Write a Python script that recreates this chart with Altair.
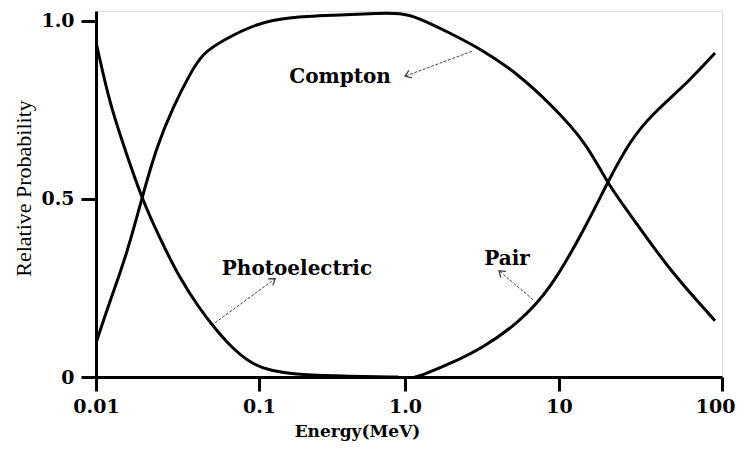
import altair as alt
import pandas as pd

# Energy (MeV) and relative probability
photo_E = [0.0101, 0.0122, 0.0155, 0.0191, 0.0247, 0.0327, 0.0434, 0.0522, 0.0664, 0.0881, 0.119, 0.191, 0.42, 0.9]
photo_P = [0.931, 0.762, 0.622, 0.501, 0.388, 0.276, 0.191, 0.143, 0.087, 0.039, 0.017, 0.006, 0.002, 0.0]

compton_E = [0.0101, 0.0122, 0.0155, 0.0191, 0.0237, 0.0297, 0.0378, 0.0453, 0.0601, 0.0972, 0.163, 0.321,
             0.675, 0.925, 1.20, 1.96, 3.21, 5.34, 8.74, 14.9, 19.7, 30.1, 48.0, 90.6]
compton_P = [0.101, 0.214, 0.346, 0.501, 0.650, 0.757, 0.852, 0.909, 0.945, 0.993, 1.010, 1.015,
             1.021, 1.021, 1.010, 0.965, 0.917, 0.852, 0.768, 0.655, 0.543, 0.430, 0.298, 0.158]

pair_E = [1.16, 1.31, 1.96, 3.21, 5.34, 8.74, 14.9, 19.7, 27.3, 37.8, 61.0, 90.6]
pair_P = [0.0, 0.006, 0.037, 0.082, 0.149, 0.242, 0.430, 0.543, 0.664, 0.740, 0.824, 0.909]

x_ticks = [0.01, 0.1, 1, 10, 100]
x_tick_labels = ["0.01", "0.1", "1.0", "10", "100"]
y_ticks = [0, 0.5, 1.0]
y_tick_labels = ["0", "0.5", "1.0"]

# annotations: label, label position, arrow tail, arrow head
ann_labels = ["Compton", "Photoelectric", "Pair"]
ann_E = [0.359, 0.182, 4.60]
ann_P = [0.841, 0.304, 0.332]
arrow_tail_E = [2.72, 0.0537, 6.78]
arrow_tail_P = [0.914, 0.152, 0.217]
arrow_head_E = [1.0, 0.129, 4.08]
arrow_head_P = [0.844, 0.276, 0.298]
arrow_angle = [159.5, 324, 220.5]

rows = []
for name, es, ps in [("Photoelectric", photo_E, photo_P), ("Compton", compton_E, compton_P), ("Pair", pair_E, pair_P)]:
    for e, p in zip(es, ps):
        rows.append({"series": name, "E": e, "P": p})
curves = pd.DataFrame(rows)

ann = pd.DataFrame({"label": ann_labels, "E": ann_E, "P": ann_P,
                    "tE": arrow_tail_E, "tP": arrow_tail_P,
                    "hE": arrow_head_E, "hP": arrow_head_P, "ang": arrow_angle})

label_map = "{" + ",".join(f"'{v}':'{l}'" for v, l in zip(x_ticks, x_tick_labels)) + "}"
ylabel_map = "{" + ",".join(f"'{v}':'{l}'" for v, l in zip(y_ticks, y_tick_labels)) + "}"

xscale = alt.Scale(type="log", domain=[0.01, 0.1, 1, 10, 100], range=[0, 163, 309, 463, 626])
yscale = alt.Scale(domain=[0, 1.027], nice=False, zero=False)

font_bold = "DejaVu Serif"

x_axis = alt.Axis(values=x_ticks, labelExpr=f"{label_map}[datum.value] || datum.label",
                  title="Energy(MeV)", titleFont=font_bold, titleFontSize=17, titleFontWeight="bold",
                  titleX=261, titleY=54, titleAlign="center", titleBaseline="middle",
                  labelFont=font_bold, labelFontSize=19, labelFontWeight="bold", labelColor="black",
                  labelAlign=alt.ExprRef(expr="datum.value >= 100 ? 'right' : 'center'"),
                  labelOffset=alt.ExprRef(expr="datum.value >= 100 ? 13 : 0"),
                  labelPadding=6, labelFlush=False, labelOverlap=False,
                  domainColor="black", domainWidth=3, tickColor="black", tickWidth=3, tickSize=14,
                  grid=False)
y_axis = alt.Axis(values=y_ticks, labelExpr=f"{ylabel_map}[datum.value] || datum.label",
                  title="Relative Probability", titleFont="Liberation Serif", titleFontSize=22,
                  titleFontWeight="normal", titleX=-73, titleY=177, titleAngle=270,
                  titleAlign="center", titleBaseline="middle",
                  labelFont=font_bold, labelFontSize=19, labelFontWeight="bold", labelColor="black",
                  labelPadding=7, labelFlush=False,
                  domainColor="black", domainWidth=3, tickColor="black", tickWidth=3, tickSize=15,
                  grid=False)

lines = alt.Chart(curves).mark_line(color="black", strokeWidth=3, interpolate="basis", clip=True).encode(
    x=alt.X("E:Q", scale=xscale, axis=x_axis),
    y=alt.Y("P:Q", scale=yscale, axis=y_axis),
    detail="series:N",
)

texts = alt.Chart(ann).mark_text(font=font_bold, fontSize=20, fontWeight="bold", color="black",
                                 align="center", baseline="middle").encode(
    x=alt.X("E:Q", scale=xscale), y=alt.Y("P:Q", scale=yscale), text="label:N")

shafts = alt.Chart(ann).mark_rule(color="#444444", strokeWidth=1, strokeDash=[3, 1.5]).encode(
    x=alt.X("tE:Q", scale=xscale), y=alt.Y("tP:Q", scale=yscale),
    x2="hE:Q", y2="hP:Q")

heads = alt.Chart(ann).mark_point(shape="M -1 -0.7 L 0 0 L -1 0.7", filled=False, size=130,
                                  color="#444444", strokeWidth=1.3, opacity=1).encode(
    x=alt.X("hE:Q", scale=xscale), y=alt.Y("hP:Q", scale=yscale),
    angle=alt.Angle("ang:Q", scale=None))

chart = alt.layer(lines, shafts, heads, texts).properties(
    width=626, height=366,
    autosize=alt.AutoSizeParams(type="none"),
    padding={"left": 88, "top": 3, "right": 15, "bottom": 64},
).configure_view(stroke="#c8c8c8", strokeWidth=1.5).configure(background="white")

chart.save("out.html", embed_options={"renderer": "svg", "actions": False})
